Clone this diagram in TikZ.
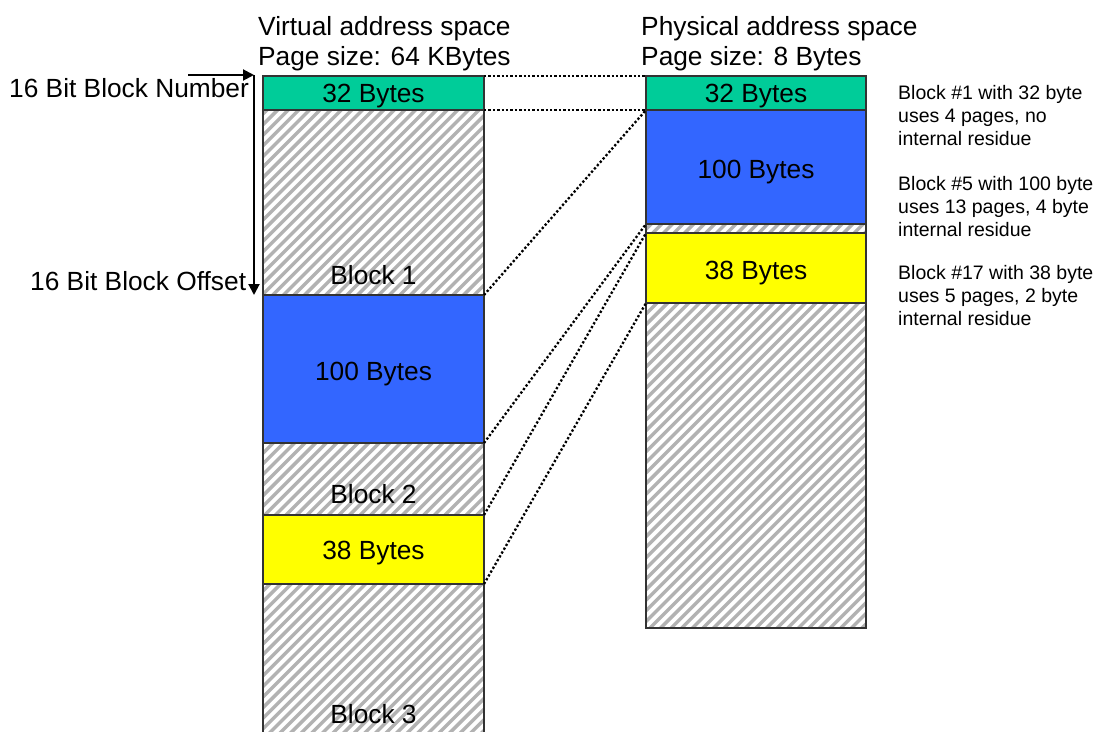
\documentclass[tikz,border=0pt]{standalone}
\usepackage{fontspec}
\setmainfont{Liberation Sans}
\usetikzlibrary{arrows.meta}
\definecolor{cgreen}{RGB}{0,204,153}
\definecolor{cblue}{RGB}{51,102,255}
\definecolor{cyellow}{RGB}{255,255,0}
\definecolor{hatchgray}{RGB}{178,178,178}
\newcommand\hatchrect[4]{%
  \begin{scope}
    \clip (#1,#2) rectangle (#3,#4);
    \fill[white] (#1,#2) rectangle (#3,#4);
    \foreach \k in {-900,-889.4,...,1200} \draw[hatchline] (\k,800) -- ++(900,-900);
  \end{scope}}
\tikzset{
  hatchline/.style={draw=hatchgray, line width=3.4pt},
  seg/.style={draw=black!80, line width=1.3pt, inner sep=0pt, outer sep=0pt},
  edge/.style={draw=black!80, line width=1.3pt},
  big/.style={font=\fontsize{26.3}{30}\selectfont, inner sep=0pt},
  small/.style={font=\fontsize{19.5}{22.8}\selectfont, inner sep=0pt, align=left},
  link/.style={line width=2.3pt, dash pattern=on 2.3pt off 2.1pt},
  arr/.style={line width=2pt, -{Triangle[length=11pt,width=11pt]}}
}
\begin{document}
\begin{tikzpicture}[x=1pt,y=-1pt]
\useasboundingbox (0,0) rectangle (1102,731);
\begin{scope}
\clip (0,0) rectangle (1102,731);
% hatched regions, left column
\hatchrect{263}{110}{484}{295}
\hatchrect{263}{443}{484}{515}
\hatchrect{263}{584}{484}{740}
\draw[edge] (263,110) -- (263,740) (484,110) -- (484,740);
% hatched regions, right column
\hatchrect{646}{224}{866}{233}
\hatchrect{646}{303}{866}{628}
\draw[edge] (646,76) rectangle (866,628);
% coloured segments
\node[seg, fill=cgreen, minimum width=221pt, minimum height=34pt] (vG) at (373.5,93) {};
\node[seg, fill=cblue, minimum width=221pt, minimum height=148pt] (vB) at (373.5,369) {};
\node[seg, fill=cyellow, minimum width=221pt, minimum height=69pt] (vY) at (373.5,549.5) {};
\node[seg, fill=cgreen, minimum width=220pt, minimum height=34pt] (pG) at (756,93) {};
\node[seg, fill=cblue, minimum width=220pt, minimum height=114pt] (pB) at (756,167) {};
\node[seg, fill=cyellow, minimum width=220pt, minimum height=70pt] (pY) at (756,268) {};
% segment labels
\node[big, anchor=base] (lvG) at (373.5,102) {32 Bytes};
\node[big, anchor=base] (lb1) at (373.5,284) {Block 1};
\node[big, anchor=base] (lvB) at (373.5,380) {100 Bytes};
\node[big, anchor=base] (lb2) at (373.5,503) {Block 2};
\node[big, anchor=base] (lvY) at (373.5,559) {38 Bytes};
\node[big, anchor=base] (lb3) at (373.5,723) {Block 3};
\node[big, anchor=base] (lpG) at (756,102) {32 Bytes};
\node[big, anchor=base] (lpB) at (756,178) {100 Bytes};
\node[big, anchor=base] (lpY) at (756,279) {38 Bytes};
\end{scope}
% headers
\node[big, anchor=base west] (hv1) at (258,35) {Virtual address space};
\node[big, anchor=base west] (hv2) at (258,65) {Page size: 64 KBytes};
\node[big, anchor=base west] (hp1) at (641,35) {Physical address space};
\node[big, anchor=base west] (hp2) at (641,65) {Page size: 8 Bytes};
% mapping lines
\draw[link] (vG.north east) -- (pG.north west);
\draw[link] (vG.south east) -- (pG.south west);
\draw[link] (vB.north east) -- (pB.north west);
\draw[link] (vB.south east) -- (pB.south west);
\draw[link] (vY.north east) -- (pY.north west);
\draw[link] (vY.south east) -- (pY.south west);
% block number / offset arrows
\node[big, anchor=base west] (bn) at (9,97) {16 Bit Block Number};
\node[big, anchor=base west] (bo) at (30,290) {16 Bit Block Offset};
\coordinate (aS) at (188,75);
\coordinate (aC) at (254,75);
\coordinate (aE) at (254,295);
\draw[arr] (aS) -- (aC);
\draw[arr] (aC) -- (aE);
% notes
\node[small, anchor=base west] (n1) at (898,145) {Block \#1 with 32 byte\\uses 4 pages, no\\internal residue};
\node[small, anchor=base west] (n2) at (898,236) {Block \#5 with 100 byte\\uses 13 pages, 4 byte\\internal residue};
\node[small, anchor=base west] (n3) at (898,325) {Block \#17 with 38 byte\\uses 5 pages, 2 byte\\internal residue};
\end{tikzpicture}
\end{document}
